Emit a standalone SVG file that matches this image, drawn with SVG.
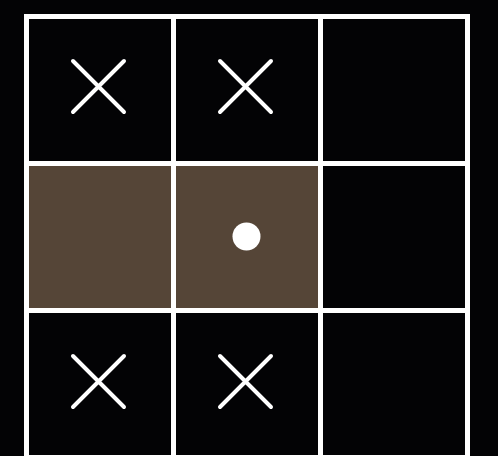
<svg xmlns="http://www.w3.org/2000/svg" width="498" height="456" viewBox="0 0 498 456">
<style>
.cell{stroke:#ffffff;stroke-width:5}
.dark{fill:#030305}
.tan{fill:#554537}
.x{stroke:#ffffff;stroke-width:4;stroke-linecap:round;fill:none}
</style>
<rect width="498" height="456" fill="#030305"/>
<g id="c00"><rect class="cell dark" x="26.5" y="16.5" width="147" height="147"/><path class="x" d="M73 61L124 112M124 61L73 112"/></g>
<g id="c01"><rect class="cell dark" x="173.5" y="16.5" width="147" height="147"/><path class="x" d="M220 61L271 112M271 61L220 112"/></g>
<g id="c02"><rect class="cell dark" x="320.5" y="16.5" width="147" height="147"/></g>
<g id="c10"><rect class="cell tan" x="26.5" y="163.5" width="147" height="147"/></g>
<g id="c11"><rect class="cell tan" x="173.5" y="163.5" width="147" height="147"/><circle cx="246.5" cy="236.5" r="14" fill="#ffffff"/></g>
<g id="c12"><rect class="cell dark" x="320.5" y="163.5" width="147" height="147"/></g>
<g id="c20"><rect class="cell dark" x="26.5" y="310.5" width="147" height="147"/><path class="x" d="M73 356L124 407M124 356L73 407"/></g>
<g id="c21"><rect class="cell dark" x="173.5" y="310.5" width="147" height="147"/><path class="x" d="M220 356L271 407M271 356L220 407"/></g>
<g id="c22"><rect class="cell dark" x="320.5" y="310.5" width="147" height="147"/></g>
<g id="connectors"></g>
</svg>
